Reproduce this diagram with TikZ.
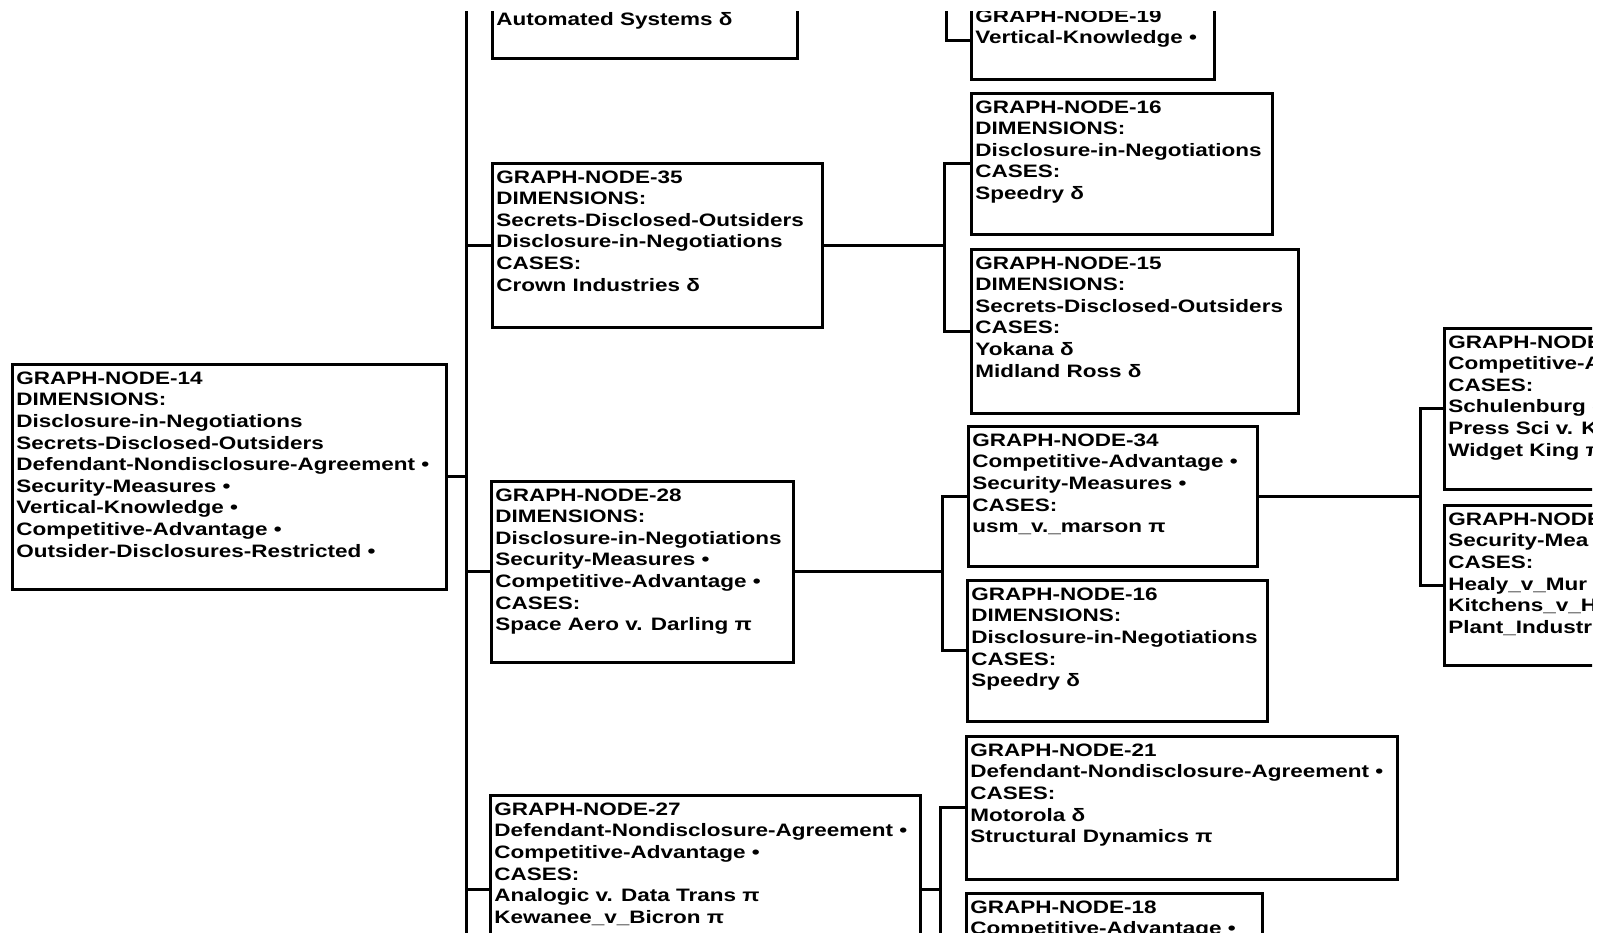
\documentclass[tikz,border=0pt]{standalone}
\usepackage{fontspec}
\setmainfont{Liberation Sans}[FakeStretch=1.25]
\usetikzlibrary{calc}

\newlength{\pxu}
\setlength{\pxu}{0.5pt}
% box text: width, height (in px), lines
\newcommand{\gtext}[3]{\parbox[c][#2\pxu][t]{#1\pxu}{\raggedright\leftskip=2pt\rule{0pt}{9.9pt}#3}}
\newcommand{\gtextb}[3]{\parbox[c][#2\pxu][b]{#1\pxu}{\raggedright\leftskip=2pt #3\rule[-16.3pt]{0pt}{16.3pt}\par\vskip0pt}}

\tikzstyle{gnode} = [draw=black, line width=1.4pt, inner sep=0pt, anchor=north west, font=\fontsize{9}{10.8}\selectfont\bfseries]
\tikzstyle{link} = [line width=1.5pt]

\begin{document}
\begin{tikzpicture}[x=0.5pt, y=-0.5pt]

\useasboundingbox (0,0) rectangle (1605,940);

\begin{scope}
\clip (0,12) rectangle (1592,932);

% column 1
\node (n14) [gnode] at (11,363) {\gtext{434}{225}{GRAPH-NODE-14\\DIMENSIONS:\\Disclosure-in-Negotiations\\Secrets-Disclosed-Outsiders\\Defendant-Nondisclosure-Agreement •\\Security-Measures •\\Vertical-Knowledge •\\Competitive-Advantage •\\Outsider-Disclosures-Restricted •}};

% column 2
\node (auto) [gnode] at (491,-83) {\gtextb{305}{140}{Automated Systems δ}};
\node (n35) [gnode] at (491,162) {\gtext{330}{164}{GRAPH-NODE-35\\DIMENSIONS:\\Secrets-Disclosed-Outsiders\\Disclosure-in-Negotiations\\CASES:\\Crown Industries δ}};
\node (n28) [gnode] at (490,480) {\gtext{302}{181}{GRAPH-NODE-28\\DIMENSIONS:\\Disclosure-in-Negotiations\\Security-Measures •\\Competitive-Advantage •\\CASES:\\Space Aero v. Darling π}};
\node (n27) [gnode] at (489,794) {\gtext{430}{188}{GRAPH-NODE-27\\Defendant-Nondisclosure-Agreement •\\Competitive-Advantage •\\CASES:\\Analogic v. Data Trans π\\Kewanee\_v\_Bicron π}};

% column 3
\node (n19) [gnode] at (970,1) {\gtext{243}{77}{GRAPH-NODE-19\\Vertical-Knowledge •}};
\node (n16a) [gnode] at (970,92) {\gtext{301}{141}{GRAPH-NODE-16\\DIMENSIONS:\\Disclosure-in-Negotiations\\CASES:\\Speedry δ}};
\node (n15) [gnode] at (970,248) {\gtext{327}{164}{GRAPH-NODE-15\\DIMENSIONS:\\Secrets-Disclosed-Outsiders\\CASES:\\Yokana δ\\Midland Ross δ}};
\node (n34) [gnode] at (967,425) {\gtext{289}{140}{GRAPH-NODE-34\\Competitive-Advantage •\\Security-Measures •\\CASES:\\usm\_v.\_marson π}};
\node (n16b) [gnode] at (966,579) {\gtext{300}{141}{GRAPH-NODE-16\\DIMENSIONS:\\Disclosure-in-Negotiations\\CASES:\\Speedry δ}};
\node (n21) [gnode] at (965,735) {\gtext{431}{143}{GRAPH-NODE-21\\Defendant-Nondisclosure-Agreement •\\CASES:\\Motorola δ\\Structural Dynamics π}};
\node (n18) [gnode] at (965,892) {\gtext{296}{140}{GRAPH-NODE-18\\Competitive-Advantage •}};

% column 4 (cut off at the right)
\node (r1) [gnode] at (1443,327) {\gtext{300}{161}{GRAPH-NODE\\Competitive-A\\CASES:\\Schulenburg δ\\Press Sci v. K\\Widget King π}};
\node (r2) [gnode] at (1443,504) {\gtext{300}{160}{GRAPH-NODE\\Security-Mea\\CASES:\\Healy\_v\_Mur\\Kitchens\_v\_H\\Plant\_Industri}};

% trunk positions
\coordinate (t14) at (466,0);
\coordinate (tauto) at (946,0);
\coordinate (t35) at (944,0);
\coordinate (t28) at (942,0);
\coordinate (t27) at (940,0);
\coordinate (t34) at (1420,0);
\coordinate (more14) at (466,990);

\draw [link] (n14.east) -- (n14.east -| t14) |- (auto.west);
\draw [link] (n14.east) -- (n14.east -| t14) |- (n35.west);
\draw [link] (n14.east) -- (n14.east -| t14) |- (n28.west);
\draw [link] (n14.east) -- (n14.east -| t14) |- (n27.west);
\draw [link] (n14.east) -| (more14);

\draw [link] (auto.east) -- (auto.east -| tauto) |- (n19.west);
\draw [link] (n35.east) -- (n35.east -| t35) |- (n16a.west);
\draw [link] (n35.east) -- (n35.east -| t35) |- (n15.west);
\draw [link] (n28.east) -- (n28.east -| t28) |- (n34.west);
\draw [link] (n28.east) -- (n28.east -| t28) |- (n16b.west);
\draw [link] (n27.east) -- (n27.east -| t27) |- (n21.west);
\draw [link] (n27.east) -- (n27.east -| t27) |- (n18.west);

\draw [link] (n34.east) -- (n34.east -| t34) |- (r1.west);
\draw [link] (n34.east) -- (n34.east -| t34) |- (r2.west);

\end{scope}

\end{tikzpicture}
\end{document}
